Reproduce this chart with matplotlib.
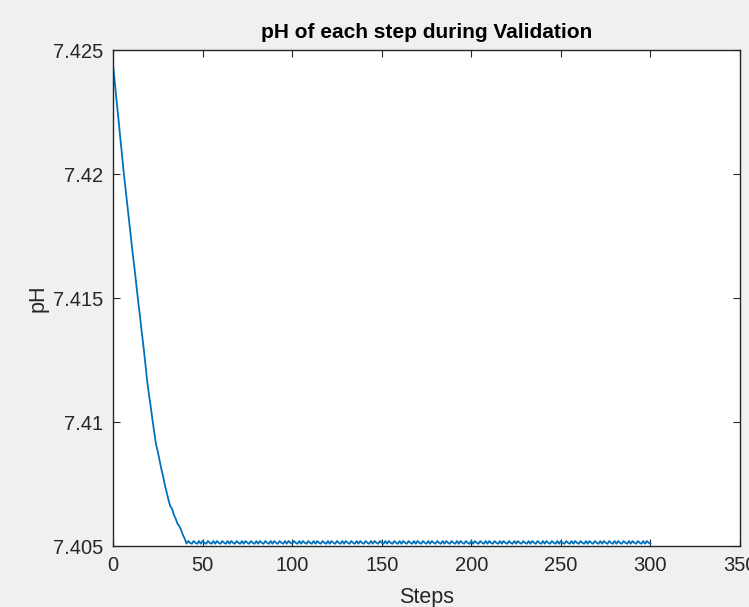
import matplotlib
matplotlib.use("Agg")
import matplotlib.pyplot as plt

# ---- data ----
descent_ph = [
    7.42440, 7.42370, 7.42295, 7.42225, 7.42150, 7.42080, 7.42005, 7.41940,
    7.41875, 7.41810, 7.41745, 7.41680, 7.41620, 7.41555, 7.41490, 7.41430,
    7.41365, 7.41305, 7.41240, 7.41170, 7.41115, 7.41065, 7.41010, 7.40960,
    7.40910, 7.40880, 7.40845, 7.40810, 7.40780, 7.40745, 7.40715, 7.40685,
    7.40660, 7.40650, 7.40625, 7.40610, 7.40590, 7.40580, 7.40565, 7.40545,
    7.40530, 7.40510,
]
steady_ph = [
    7.40520, 7.40513, 7.40509, 7.40520, 7.40513, 7.40509, 7.40520, 7.40509,
    7.40520, 7.40513, 7.40509, 7.40520, 7.40513, 7.40509, 7.40520, 7.40509,
    7.40520, 7.40513, 7.40509, 7.40520, 7.40513, 7.40509, 7.40520, 7.40509,
    7.40520, 7.40513, 7.40509, 7.40520, 7.40513, 7.40509, 7.40520, 7.40509,
    7.40520, 7.40513, 7.40509, 7.40520, 7.40513, 7.40509, 7.40520, 7.40509,
    7.40520, 7.40513, 7.40509, 7.40520, 7.40513, 7.40509, 7.40520, 7.40509,
    7.40520, 7.40513, 7.40509, 7.40520, 7.40513, 7.40509, 7.40520, 7.40509,
    7.40520, 7.40513, 7.40509, 7.40520, 7.40513, 7.40509, 7.40520, 7.40509,
    7.40520, 7.40513, 7.40509, 7.40520, 7.40513, 7.40509, 7.40520, 7.40509,
    7.40520, 7.40513, 7.40509, 7.40520, 7.40513, 7.40509, 7.40520, 7.40509,
    7.40520, 7.40513, 7.40509, 7.40520, 7.40513, 7.40509, 7.40520, 7.40509,
    7.40520, 7.40513, 7.40509, 7.40520, 7.40513, 7.40509, 7.40520, 7.40509,
    7.40520, 7.40513, 7.40509, 7.40520, 7.40513, 7.40509, 7.40520, 7.40509,
    7.40520, 7.40513, 7.40509, 7.40520, 7.40513, 7.40509, 7.40520, 7.40509,
    7.40520, 7.40513, 7.40509, 7.40520, 7.40513, 7.40509, 7.40520, 7.40509,
    7.40520, 7.40513, 7.40509, 7.40520, 7.40513, 7.40509, 7.40520, 7.40509,
    7.40520, 7.40513, 7.40509, 7.40520, 7.40513, 7.40509, 7.40520, 7.40509,
    7.40520, 7.40513, 7.40509, 7.40520, 7.40513, 7.40509, 7.40520, 7.40509,
    7.40520, 7.40513, 7.40509, 7.40520, 7.40513, 7.40509, 7.40520, 7.40509,
    7.40520, 7.40513, 7.40509, 7.40520, 7.40513, 7.40509, 7.40520, 7.40509,
    7.40520, 7.40513, 7.40509, 7.40520, 7.40513, 7.40509, 7.40520, 7.40509,
    7.40520, 7.40513, 7.40509, 7.40520, 7.40513, 7.40509, 7.40520, 7.40509,
    7.40520, 7.40513, 7.40509, 7.40520, 7.40513, 7.40509, 7.40520, 7.40509,
    7.40520, 7.40513, 7.40509, 7.40520, 7.40513, 7.40509, 7.40520, 7.40509,
    7.40520, 7.40513, 7.40509, 7.40520, 7.40513, 7.40509, 7.40520, 7.40509,
    7.40520, 7.40513, 7.40509, 7.40520, 7.40513, 7.40509, 7.40520, 7.40509,
    7.40520, 7.40513, 7.40509, 7.40520, 7.40513, 7.40509, 7.40520, 7.40509,
    7.40520, 7.40513, 7.40509, 7.40520, 7.40513, 7.40509, 7.40520, 7.40509,
    7.40520, 7.40513, 7.40509, 7.40520, 7.40513, 7.40509, 7.40520, 7.40509,
    7.40520, 7.40513, 7.40509, 7.40520, 7.40513, 7.40509, 7.40520, 7.40509,
    7.40520, 7.40513, 7.40509, 7.40520, 7.40513, 7.40509, 7.40520, 7.40509,
    7.40520, 7.40513, 7.40509, 7.40520, 7.40513, 7.40509, 7.40520, 7.40509,
    7.40520, 7.40513, 7.40509,
]
ph_values = descent_ph + steady_ph
steps = list(range(len(ph_values)))

x_ticks = [0, 50, 100, 150, 200, 250, 300, 350]
y_ticks = [7.405, 7.41, 7.415, 7.42, 7.425]
y_tick_labels = ["7.405", "7.41", "7.415", "7.42", "7.425"]

title = "pH of each step during Validation"
x_label = "Steps"
y_label = "pH"

# ---- figure ----
plt.rcParams["font.family"] = ["Liberation Sans", "DejaVu Sans"]
dark = "#262626"

fig = plt.figure(figsize=(7.49, 6.07), dpi=100, facecolor="#f0f0f0")
ax = fig.add_axes([113 / 749, 61 / 607, 627 / 749, 496 / 607])
ax.set_facecolor("white")

ax.plot(steps, ph_values, color="#0072BD", linewidth=1.3)

ax.set_xlim(0, 350)
ax.set_ylim(7.405, 7.425)
ax.set_xticks(x_ticks)
ax.set_yticks(y_ticks)
ax.set_yticklabels(y_tick_labels)

ax.tick_params(direction="in", length=5, width=0.8, colors=dark,
               labelsize=14.5, top=True, right=True, pad=7)
for s in ax.spines.values():
    s.set_color(dark)
    s.set_linewidth(1.0)

ax.set_title(title, fontsize=15, fontweight="bold", color="black", pad=9)
ax.set_xlabel(x_label, fontsize=15.5, color=dark, labelpad=9)
ax.set_ylabel(y_label, fontsize=15.5, color=dark, labelpad=3)

fig.savefig("out.png", dpi=100, facecolor=fig.get_facecolor())
